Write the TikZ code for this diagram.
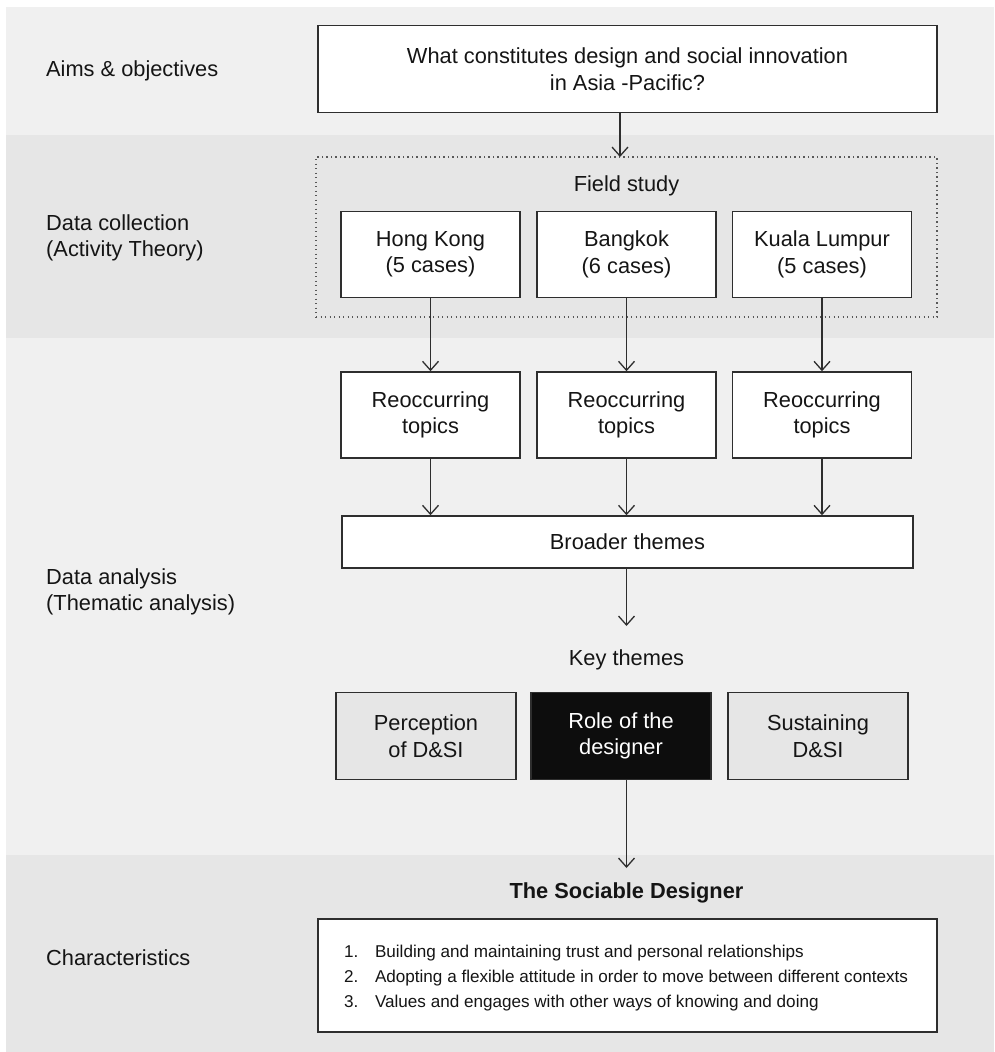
\documentclass[tikz,border=0pt]{standalone}
\usepackage{fontspec}
\setmainfont{Liberation Sans}
\usetikzlibrary{arrows.meta}
\definecolor{bandA}{HTML}{F0F0F0}
\definecolor{bandB}{HTML}{E6E6E6}
\definecolor{linec}{HTML}{2E2E2E}
\definecolor{txt}{HTML}{151515}
\definecolor{darkbox}{HTML}{0D0D0D}
\newcommand\fmain{\fontsize{21.8}{26.5}\selectfont}
\newcommand\flist{\fontsize{17.1}{25}\selectfont}
\begin{document}
\begin{tikzpicture}[x=1pt,y=-1pt,
  box/.style={draw=linec, line width=1.5pt, fill=white, align=center, inner sep=0pt, text=txt, font=\fmain},
  cbox/.style={box, minimum width=179pt, minimum height=86pt},
  kbox/.style={box, minimum width=180pt, minimum height=87pt, fill=bandB},
  dotbox/.style={draw=linec!80, line width=1.4pt, dash pattern=on 1.4pt off 3.1pt, inner sep=0pt},
  lbl/.style={inner sep=0pt, text=txt, font=\fmain, align=center},
  side/.style={inner sep=0pt, text=txt, font=\fmain, align=left, anchor=west},
  arr/.style={draw=linec, line width=1.3pt, -{Straight Barb[length=9pt,width=16pt]}}
]
\useasboundingbox (0,0) rectangle (994,1052);
\fill[bandA] (6,6.7) rectangle (994,135);
\fill[bandB] (6,135) rectangle (994,338);
\fill[bandA] (6,338) rectangle (994,855);
\fill[bandB] (6,855) rectangle (994,1052);

% side labels
\node[side] (s1) at (46,71) {Aims \& objectives};
\node[side] (s2) at (46,238) {Data collection\\(Activity Theory)};
\node[side] (s3) at (46,592) {Data analysis\\(Thematic analysis)};
\node[side] (s4) at (46,958) {Characteristics};

% aims
\node[box, minimum width=619pt, minimum height=87pt] (q) at (627.5,69) {What constitutes design and social innovation\\in Asia -Pacific?};

% field study
\node[dotbox, minimum width=621pt, minimum height=160pt] (fs) at (626.5,237) {};
\node[lbl] (fst) at (626.5,186) {Field study};
\coordinate (qa) at (620,157);
\node[cbox] (hk) at (430.5,254.5) {Hong Kong\\(5 cases)};
\node[cbox] (bk) at (626.5,254.5) {Bangkok\\(6 cases)};
\node[cbox] (kl) at (822,254.5) {Kuala Lumpur\\(5 cases)};

% reoccurring
\node[cbox] (r1) at (430.5,415) {Reoccurring\\topics};
\node[cbox] (r2) at (626.5,415) {Reoccurring\\topics};
\node[cbox] (r3) at (822,415) {Reoccurring\\topics};

\node[box, minimum width=571pt, minimum height=52pt] (bt) at (627.5,542) {Broader themes};
\coordinate (kta) at (626.5,626);
\node[lbl] (kt) at (626.5,660) {Key themes};

\node[kbox] (kp) at (426,736) {Perception\\of D\&SI};
\node[kbox, fill=darkbox, text=white] (kr) at (621,736) {Role of the\\designer};
\node[kbox] (ks) at (818,736) {Sustaining\\D\&SI};

\coordinate (sda) at (626.5,868);
\node[lbl, font=\fmain\bfseries] (sd) at (626.5,893) {The Sociable Designer};

\node[box, minimum width=619pt, minimum height=113pt] (cb) at (627.5,975.5) {};
\node[inner sep=0pt, align=left, font=\flist, text=txt] (cl) at (626,978.5)
 {\makebox[31pt][l]{1.}Building and maintaining trust and personal relationships\\
  \makebox[31pt][l]{2.}Adopting a flexible attitude in order to move between different contexts\\
  \makebox[31pt][l]{3.}Values and engages with other ways of knowing and doing};

% connectors
\draw[arr] (q.south -| qa) -- (qa);
\draw[arr] (hk) -- (r1);
\draw[arr] (bk) -- (r2);
\draw[arr] (kl) -- (r3);
\draw[arr] (r1.south) -- (r1.south |- bt.north);
\draw[arr] (r2.south) -- (r2.south |- bt.north);
\draw[arr] (r3.south) -- (r3.south |- bt.north);
\draw[arr] (bt.south -| kta) -- (kta);
\draw[arr] (kr.south -| sda) -- (sda);
\end{tikzpicture}
\end{document}
